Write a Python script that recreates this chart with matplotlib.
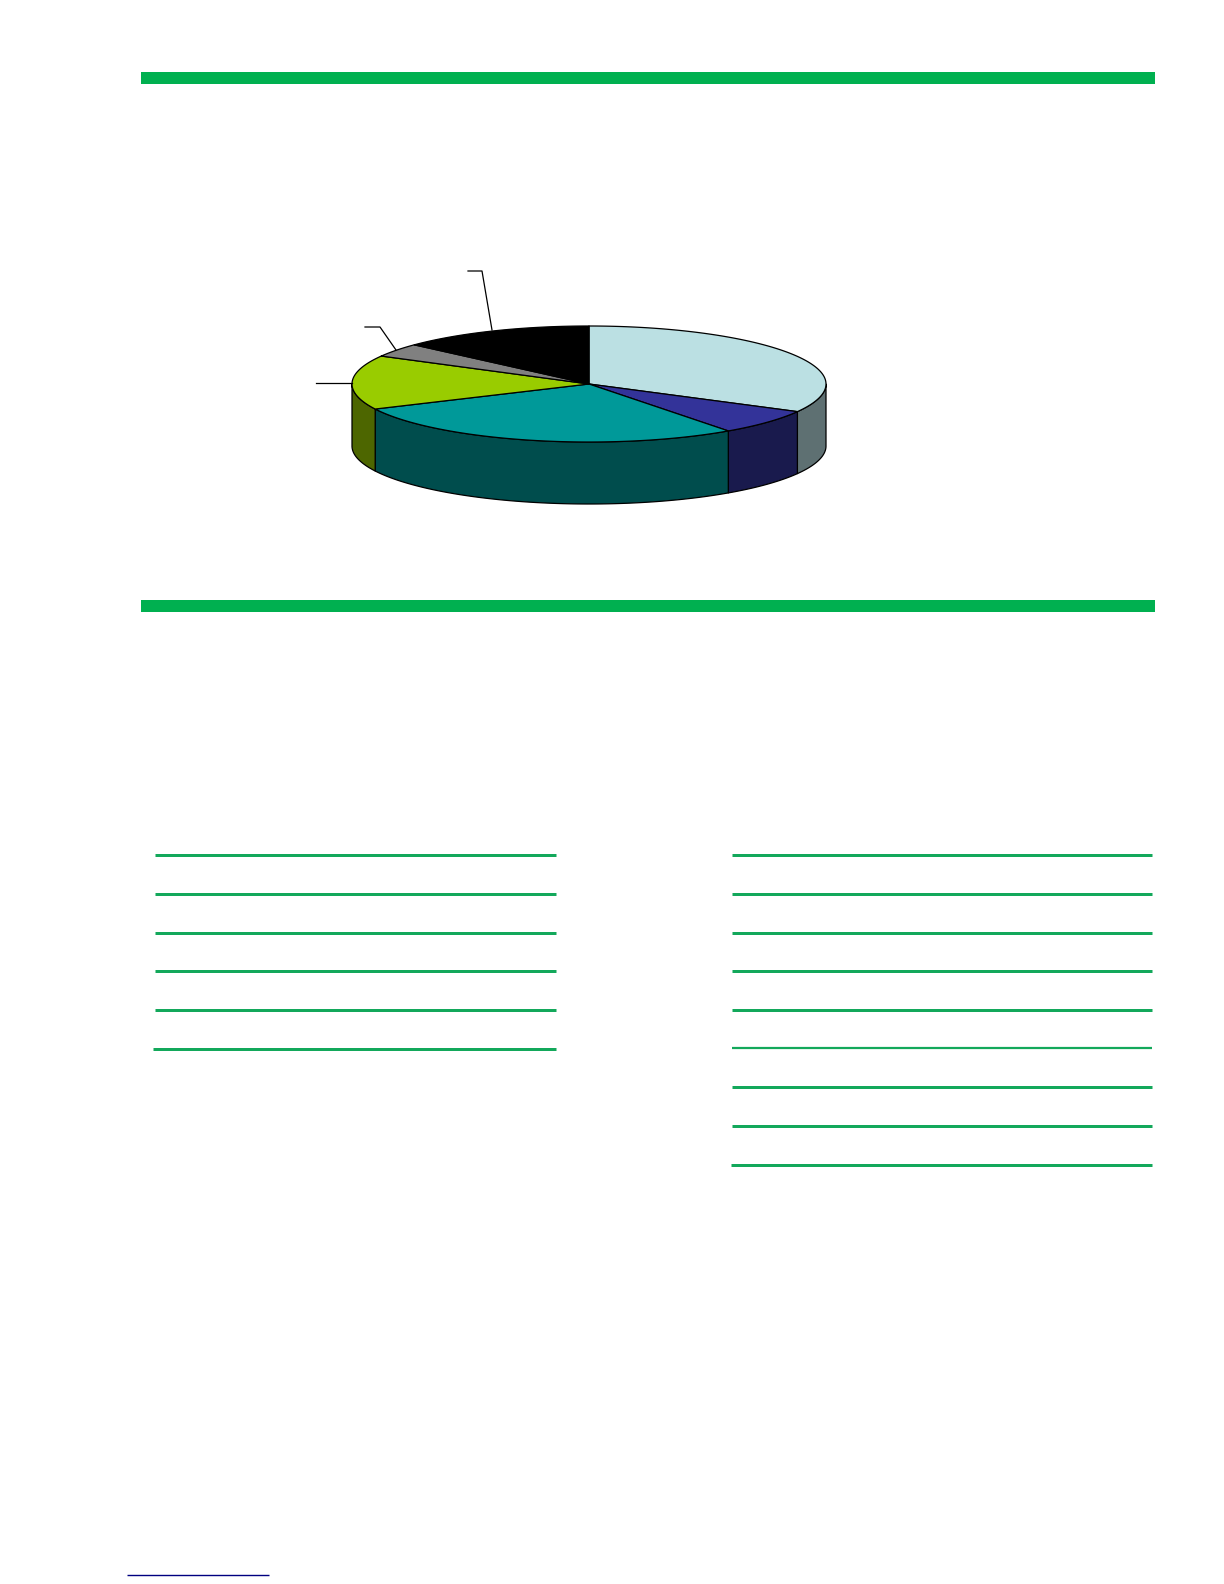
import numpy as np
import matplotlib

matplotlib.use("Agg")
import matplotlib.pyplot as plt
from matplotlib.patches import Polygon, Rectangle

# Parcelas da pizza, em sentido horario a partir das 12 horas
slice_shares = [32.9, 7.1, 27.9, 15.1, 3.8, 13.2]
top_colors = ["#BBE0E3", "#333399", "#009999", "#99CC00", "#808080", "#000000"]
side_colors = ["#5E7072", "#191A4D", "#004D4D", "#4D6600", "#404040", "#000000"]

# Linhas de chamada (x, y em pixels) das tres menores parcelas
leader_xs = [[316, 352], [365, 380, 396], [468, 482, 492]]
leader_ys = [[382.5, 382.5], [327, 327, 350], [271, 271, 330]]

# Barras verdes de secao e linhas das tabelas
band_ys = [78, 606]
left_rows = [854.5, 893.5, 932.5, 970.5, 1009.5, 1048.5]
right_rows = [854.5, 893.5, 932.5, 970.5, 1009.5, 1047.5, 1086.5, 1125.5, 1164.5]

GREEN = "#00B050"
RULE_GREEN = "#13A85B"
CX, CY, RX, RY, DEPTH = 589, 384, 237, 58, 62


def rim(a0, a1, dy=0.0, n=120):
    # Arco da elipse, com angulo em graus contado da vertical em sentido horario
    t = np.radians(np.linspace(a0, a1, n))
    return np.column_stack([CX + RX * np.sin(t), CY - RY * np.cos(t) + dy])


def main() -> None:
    fig = plt.figure(figsize=(12.24, 15.84), dpi=100, facecolor="white")
    ax = fig.add_axes([0, 0, 1, 1])
    ax.set_xlim(0, 1224)
    ax.set_ylim(1584, 0)
    ax.axis("off")

    for y in band_ys:
        ax.add_patch(Rectangle((141, y - 6), 1014, 12, color=GREEN, lw=0))

    edges = np.concatenate([[0], np.cumsum(slice_shares)]) * 360 / sum(slice_shares)

    # Parede lateral: so a metade frontal da elipse aparece
    for i in range(len(slice_shares)):
        a0, a1 = max(edges[i], 90), min(edges[i + 1], 270)
        if a1 <= a0:
            continue
        front = rim(a0, a1)
        wall = np.vstack([front, rim(a1, a0, DEPTH)])
        ax.add_patch(Polygon(wall, closed=True, facecolor=side_colors[i],
                             edgecolor="black", lw=0.9, joinstyle="round"))

    # Tampo
    for i, share in enumerate(slice_shares):
        arc = rim(edges[i], edges[i + 1])
        ax.add_patch(Polygon(np.vstack([[CX, CY], arc]), closed=True, facecolor=top_colors[i],
                             edgecolor="black", lw=0.9, joinstyle="round"))

    for xs, ys in zip(leader_xs, leader_ys):
        ax.plot(xs, ys, color="black", lw=0.9)

    for y in left_rows:
        x0 = 153 if y == left_rows[-1] else 154.5
        ax.plot([x0, 556], [y, y], color=RULE_GREEN, lw=2.16, solid_capstyle="butt")
    for y in right_rows:
        x0 = 730.5 if y == right_rows[-1] else 731.5
        lw = 1.6 if y == 1047.5 else 2.16
        ax.plot([x0, 1152], [y, y], color=RULE_GREEN, lw=lw, solid_capstyle="butt")

    # Fio de nota de rodape
    ax.plot([127, 269], [1575, 1575], color="#000080", lw=1.0, solid_capstyle="butt")

    fig.savefig("out.png", dpi=100)
    plt.close(fig)


if __name__ == "__main__":
    main()
